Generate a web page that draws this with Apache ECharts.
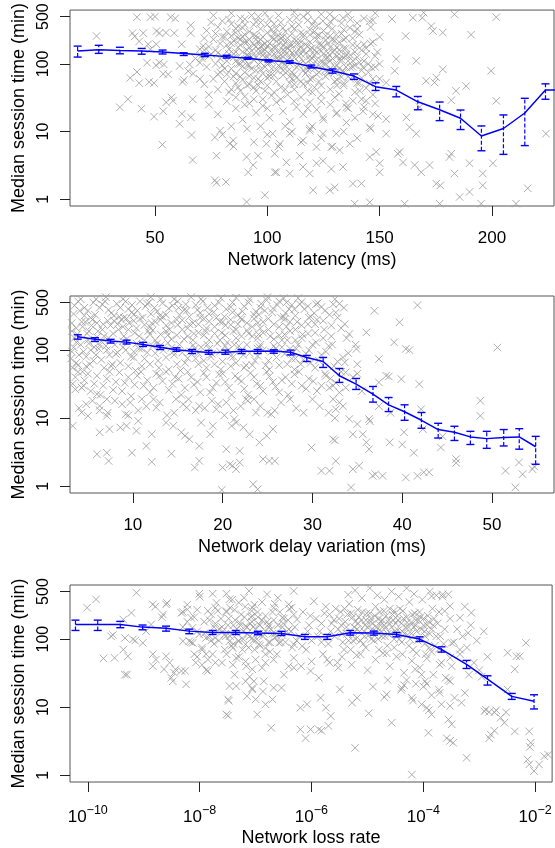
<!DOCTYPE html>
<html>
<head>
<meta charset="utf-8">
<script src="https://cdn.jsdelivr.net/npm/echarts@6.0.0/dist/echarts.min.js"></script>
<style>
  html, body { margin: 0; padding: 0; background: #fff; }
  #chart { width: 555px; height: 848px; }
</style>
</head>
<body>
<div id="chart"></div>
<script>
// ---- panel 1: network latency ----
var latX = [15.6,25.0,34.4,44.1,53.4,62.8,72.2,81.9,91.2,100.5,110,119.6,129,138.6,148.2,157.4,167,176.7,186,195.3,205.1,214.6,223.8,233.2];
var latMed = [155,162,158,155,150,142,135,128,121,112,107,91,79,66,46,41,27.5,21,15.7,8.6,11.1,18.8,41,41];
var latHi = [183,188,176,169,160,146,143,134,125,115,111,96,84,71,52.5,46.4,33,27.3,20.8,12.1,17.6,31,50.7,50];
var latLo = [126,143,141,139,140,133,128,122,117,107,102,87,73,59,40.5,32.6,21,14.5,10.7,5.2,4.6,6.2,30,30];
var latTicks = [50,100,150,200];
var latPts = [
  [24,258],[40,285],[42,490],[48,490],[50,500],[57,490],[59,470],[44.8,285],[50.7,306],[52,285],[54.9,290],[58.6,285],[65.9,372],[65.9,285],[41,255],[61.9,195],[43,215],[50.6,195],[47,195],[48,165],[70,165],[71.5,184],[52,104],[54,98],[46.5,104],[50.5,95],[42,76],[39,62],[43,52],[47.4,54],[49.6,52],[53.7,71],[55.9,70],[62.3,54],[62.9,58],[64.8,78],[67,72],[61,93],[65.5,98],[38,30],[34.4,22.8],[44,21.8],[49.6,16.6],[53.7,20],[55,27],[58,28.5],[57.4,32],[62,18.3],[61,13],[66,16.2],[66.8,30],[53.3,6.4],[66.3,8.9],[66.8,3.8],[76.7,1.9],[77.4,1.75],[81.6,1.8],[90.8,0.91],[98.9,1.15],[76.7,8.2],[79,10.3],[83.3,6.6],[84.8,7.4],[77.4,4.4],[90.8,4.2],[95.9,4.4],[91.5,2.5],[93.7,3.2],[99.6,6.6],[103.3,4.7],[102.4,9.3],[104,2.5],[70.7,131],[70,104],
  [145.6,429],[147,440],[155.5,460],[164.8,480],[169,480],[173.7,306],[178.1,290],[183.3,540],[190.7,270],[201.9,490],[169.6,570],[161.6,258],[173,362],
  [199.6,79],[201.9,28.5],[224,9.3],[178.1,83],[175.2,63],[174.4,53],[170.7,56],[184,40],[188.5,47],[181.9,29],[166.3,111],[157.4,118],[156.7,79],[152.9,53],[167.8,23],[161.9,16.2],[152.9,15.3],[163.3,11.6],[166.3,9.3],[158.9,5],[165.6,3.2],[168.5,2.5],[172.2,3.2],[175.2,1.7],[177,1.6],[181.1,4.2],[181.9,4.7],[183.3,2.4],[185.6,1.08],[190,1.28],[190,3.4],[195.9,2.4],[200.4,3.4],[195.9,1.6],[215.9,1.45],[210.7,0.86],[195.2,0.86],[176.7,0.86],[161.1,0.86],[145.6,0.9],[138.9,0.86],[145.6,4.2],[150,3.4],[141.9,1.7],[148.5,5],[158.1,4.7],[160.4,3.5],[150,2.5],[138.1,1.7],[133.7,3],[130,1.5],[127.8,1.36],[120.4,1.36],[118.9,2.4],[115.9,3],[121.9,3.4],[124.8,3.7],[114.4,4.4],[108.5,3.5],[103.3,2.5],[110,2.4],[128.5,2.8],[136.7,6.6],[132.2,5.3],[152.9,9.3],[145.6,11.6],[149.3,17],[135.2,13.6],[105.6,6.6],[110,9.3],[115.9,7.4],[121.9,5.9],[128.5,5.9],[118.9,10.3],[124.8,9.3],[130.7,9.3],[138.1,28.5],[144,28.5],[141.1,40],[145.6,51],[142.6,20],[135.2,22.8],[130.7,18.3],[124.8,16.2],[133.7,79],[138.1,111],[142.6,89],[135.2,139],[146.3,89],[130.7,270],[136.7,340],[127.8,540],[133.7,480],[124.8,429],
  [76,520],[80,430],[84,560],[88,470],[90,380],[93,520],[95,420],[97,330],[99,560],[101,460],[103,390],[105,520],[107,340],[110,450],[112,580],[114,380],[116,500],[119,320],[121,430],[124,540],[127,360],[130,470],[133,400],[136,540],[140,330],[143,470],[148,560],[86,330],[92,300],[108,300],[118,560],[125,310],[78,350],[82,300],
  [72,240],[74,180],[77,280],[79,200],[81,250],[83,165],[85,220],[86,290],[88,190],[89,255],[91,160],[92,230],[94,270],[95,180],[96,210],[98,250],[99,160],[100,290],[101,200],[102,240],[104,175],[105,265],[106,210],[108,155],[109,240],[110,190],[111,280],[113,220],[114,165],[116,250],[117,195],[119,270],[120,170],[122,230],[124,190],[126,260],[128,175],[130,220],[132,160],[135,240],[138,190],[141,270],[144,170],[147,210],[150,250],[84,260],[90,210],[97,180],[103,280],[107,185],[112,230],[115,290],[121,160],[127,200],[133,280],
  [71,120],[73,90],[75,140],[77,100],[79,75],[80,130],[82,110],[84,85],[85,140],[87,100],[88,120],[90,75],[91,135],[92,95],[94,115],[95,80],[96,145],[97,105],[99,90],[100,125],[101,72],[102,110],[103,140],[105,95],[106,120],[107,80],[108,135],[110,100],[111,75],[112,125],[113,90],[115,140],[116,110],[118,80],[119,130],[120,95],[122,115],[123,75],[125,140],[126,100],[128,85],[129,120],[131,95],[133,130],[134,75],[136,110],[138,90],[140,125],[142,80],[145,100],[148,130],[86,72],[93,128],[98,72],[104,82],[109,112],[117,72],[121,135],[127,72],[135,90],
  [72,50],[74,35],[76,60],[78,42],[81,55],[83,38],[85,65],[87,45],[89,58],[90,33],[92,50],[94,62],[95,40],[97,55],[98,30],[100,48],[101,65],[103,38],[104,55],[106,45],[107,68],[109,35],[110,52],[112,42],[113,62],[115,32],[116,50],[118,40],[119,60],[121,45],[123,55],[124,35],[126,65],[128,42],[130,55],[132,36],[134,48],[137,60],[139,38],[141,52],[144,44],[147,35],[150,60],[88,40],[96,48],[102,34],[111,60],[120,38],[131,48],
  [74,25],[78,18],[82,28],[86,22],[89,15],[92,26],[95,19],[98,24],[101,16],[104,27],[107,20],[110,14],[113,23],[116,18],[119,27],[122,21],[125,15],[128,25],[131,19],[135,26],[139,16],[143,23],[147,18],[97,12],[108,12],[84,12],[120,12],
  [80,9],[85,6],[91,11],[94,7],[100,9],[105,6],[111,10],[115,7],[119,11],[124,8],[129,6],[134,10],[140,8],[146,11],
  [73,310],[75,410],[77,160],[79,120],[81,85],[83,450],[84,200],[86,110],[87,360],[88,65],[89,150],[90,270],[91,48],[92,175],[93,85],[94,380],[95,125],[96,60],[97,230],[98,155],[99,40],[100,180],[101,105],[102,320],[103,68],[104,215],[105,150],[106,88],[107,250],[108,42],[109,170],[110,125],[111,360],[112,70],[113,195],[114,105],[115,55],[116,275],[117,140],[118,88],[119,210],[120,62],[121,300],[122,150],[123,95],[124,48],[125,180],[126,120],[127,78],[128,260],[129,150],[130,90],[131,58],[132,210],[133,115],[134,170],[136,65],[137,135],[138,240],[139,95],[140,52],[142,160],[143,110],[145,75],[146,200],[148,90],[149,150],
  [76,230],[78,145],[80,95],[82,190],[85,125],[87,240],[89,92],[91,210],[93,155],[95,260],[97,82],[99,200],[101,140],[103,235],[105,115],[107,160],[109,78],[111,190],[113,145],[115,210],[117,100],[119,165],[121,85],[123,265],[125,100],[127,145],[129,225],[131,130],[133,64],[135,170],[137,88],[139,300],[141,105],[144,140],[147,60],[150,100],
  [86,150],[88,230],[90,115],[92,66],[94,190],[96,98],[98,135],[100,62],[102,165],[104,120],[106,240],[108,95],[110,160],[112,50],[114,130],[116,80],[118,180],[120,120],[122,70],[124,155],[126,225],[128,110],[130,160],[132,85],[134,230],[82,70],[84,42],[86,32],[90,25],[94,30],[100,22],[106,30],[112,28],[118,22],[124,28],[130,32],[136,22],[142,30],[148,26],[100,380],[106,410],[112,330],[118,440],[96,500],[122,360],[128,420],[134,320],[140,400],[146,350],[90,460],[84,390],[80,250],[78,70],[74,130],[72,160],[70,60],[68,120],
  [83,140],[87,175],[91,95],[95,230],[99,125],[103,175],[107,105],[111,145],[115,180],[119,115],[123,195],[127,125],[131,175],[135,130],[139,150],[143,195],[89,340],[97,410],[104,330],[113,480],[120,380],[129,330],[137,450],[92,130],[100,105],[108,205],[116,160],[124,112],[132,115],[140,185],[86,52],[94,45],[102,85],[110,65],[118,52],[126,82],[134,52],[142,62],[98,190],[106,135],[114,95],[122,260],[130,75],[88,100],[96,165]
];

// ---- panel 2: network delay variation ----
var jitX = [3.86,5.78,7.52,9.3,11.14,13.03,14.86,16.59,18.44,20.3,22.1,23.9,25.7,27.56,29.37,31.19,33.0,34.86,36.74,38.48,40.26,42.14,44.0,45.81,47.59,49.41,51.3,53.03,54.86];
var jitMed = [157,144,136,131,121,110,101,96,92.5,93,96,96,97,93,78,68,42,31.6,22.5,15.7,12.4,9.3,6.8,6.2,5.3,5.0,5.2,5.3,3.8];
var jitHi = [168,152,144,140,130,117,108,102,99,100,102,102,101,100,83.5,78,53.7,38.3,29.2,20.1,15.7,12.1,8.4,7.6,6.4,6.4,6.8,7.0,5.4];
var jitLo = [145,134,127,123,113,102,96,89,87,87,89,89,90,85,68,55.6,33.5,26.4,17.2,12.5,9.3,7.1,5.1,4.7,4.1,3.6,3.9,3.5,2.1];
var jitTicks = [10,20,30,40,50];
var jitPts = [
  [3.3,7.7],[4.3,12.1],[5.0,10.8],[6.0,2.95],[7.1,3.1],[7.3,2.35],[6.3,6.2],[7.4,6.9],[7.1,10.8],[8.6,7.3],[9.3,7.7],[9.9,3.1],[9.2,11.4],[10.4,6.5],[10.6,9.1],[11.5,3.9],[12.1,2.28],[12.1,5.8],[14.3,3.0],[13.7,8.6],[14.5,7.7],[15.4,6.2],[15.8,5.5],[16.3,4.9],[16.9,1.88],[17.4,3.9],[17.6,8.6],[17.4,2.35],[18.6,5.8],[18.9,7.7],[19.9,0.88],[20,1.88],[20.8,2.1],[20.4,3.5],[21.1,2.0],[21.5,1.78],[21.9,2.23],[21,7.7],[21.3,9.7],[21.5,8.6],[21.9,3.3],[22.3,7.3],[23,5.8],[23.4,1.07],[23.9,0.9],[24.5,2.5],[25.2,2.35],[25.8,2.35],[24.1,4.4],[24.9,5.5],[25.4,11.4],[25.6,6.9],[23.7,12.1],[22.6,19],[20.4,17],[19.3,13.5],[17.4,15.1],[16,14.3],[14.8,19],[12.6,14.3],[11,19],[7.1,19],[6,22.5],[4.5,30],[3.6,26.5],[6.3,15.1],[9.7,17],
  [36.9,378],[41.7,458],[39.7,256],[39.1,130],[40.4,104],[40.8,100],[37.4,74],[38.2,42],[38.5,41],[41.9,31.6],[39.9,37.5],[37.4,33.5],[36,182],[34.9,104],[35,62],[37.4,15],[38.7,12],[40.2,6.2],[40,4.1],[38.6,4.4],[41.3,3.1],[42.1,13.5],[42.3,6.9],[42.4,1.6],[43,1.6],[41.7,1.42],[40.4,1.34],[37.8,1.42],[36.7,1.42],[37,1.5],[34.5,1.78],[35.2,2.0],[34.3,0.96],[36,4.4],[35.6,5.8],[34.5,5.8],[32.3,4.9],[32.5,4.7],[31,1.68],[31.9,1.68],[32.6,2.35],[29.9,3.7],[46,2.5],[46,2.2],[44.3,3.7],[44.5,5.4],[48.7,18],[48.7,10.8],[50.6,109],[51.5,1.68],[52.6,0.96],[53.4,1.5],[53,2.23],[54.5,1.78],[54.7,1.95],[36.3,3.5],[33.4,15],[34.1,9.7],[35,8.2],[36.3,9.7],[36.4,9.0],[32.6,13.5],[32.3,19],[32.3,30],[31.9,28],[33,23.8],[33.7,47],[33.6,66],[34.1,172],[33.6,241],[32.6,357],[32.3,472],[30.4,472],[28.6,472],[27.1,500],
  [3.5,450],[4.2,560],[5.0,380],[5.6,500],[6.3,420],[7.0,600],[7.6,350],[8.2,480],[8.9,560],[9.5,400],[10.1,330],[10.8,520],[11.4,440],[12.0,600],[12.7,370],[13.3,490],[14.0,410],[14.6,560],[15.2,330],[15.9,470],[16.5,600],[17.2,390],[17.8,520],[18.5,340],[19.1,450],[19.8,580],[20.4,400],[21.1,500],[21.7,330],[22.4,440],[23.0,560],[23.7,370],[24.3,480],[25.0,600],[25.6,410],[26.3,520],[27.0,350],[27.7,460],[28.4,580],[29.1,400],[29.8,310],[30.6,490],[31.4,380],[32.5,560],[33.5,420],[4.6,320],[8.5,310],[13.0,320],[17.5,300],[22.0,300],[26.8,310],
  [3.2,250],[3.8,170],[4.4,220],[5.0,140],[5.5,280],[6.1,190],[6.7,240],[7.3,150],[7.9,270],[8.4,200],[9.0,160],[9.6,250],[10.2,180],[10.8,290],[11.3,140],[11.9,220],[12.5,260],[13.1,170],[13.7,230],[14.3,145],[14.9,280],[15.5,200],[16.1,160],[16.7,250],[17.3,180],[17.9,290],[18.5,140],[19.1,220],[19.7,260],[20.3,165],[20.9,235],[21.5,150],[22.1,280],[22.7,195],[23.3,160],[23.9,250],[24.5,180],[25.1,290],[25.7,145],[26.3,220],[26.9,170],[27.5,260],[28.1,200],[28.8,150],[29.5,240],[30.3,180],[31.2,270],[32.1,160],[33.2,210],[6.5,135],[9.3,290],[12.2,195],[15.0,235],[18.2,210],[21.2,190],[24.2,210],[27.2,140],
  [3.1,75],[3.4,110],[3.9,60],[4.5,95],[5.1,125],[5.6,70],[6.2,105],[6.8,55],[7.4,85],[8.0,120],[8.6,65],[9.2,100],[9.8,80],[10.4,125],[11.0,58],[11.6,92],[12.2,115],[12.8,70],[13.4,100],[14.0,52],[14.6,85],[15.2,120],[15.8,65],[16.4,95],[17.0,75],[17.6,110],[18.2,55],[18.8,88],[19.4,125],[20.0,68],[20.6,100],[21.2,80],[21.8,115],[22.4,55],[23.0,90],[23.6,70],[24.2,120],[24.8,60],[25.4,95],[26.0,78],[26.6,110],[27.2,62],[27.8,90],[28.4,120],[29.0,72],[29.6,100],[30.3,55],[31.0,85],[31.8,115],[32.8,68],[34.0,90],[3.3,55],[4.8,80],[7.0,115],[10.1,95],[13.9,128],[17.3,62],[20.9,58],[23.9,105],[28.0,52],
  [3.6,40],[4.3,28],[5.0,45],[5.7,32],[6.4,22],[7.1,38],[7.8,26],[8.5,47],[9.1,33],[9.8,21],[10.5,42],[11.2,30],[11.9,24],[12.6,45],[13.3,35],[14.0,26],[14.7,40],[15.4,22],[16.1,48],[16.8,31],[17.5,24],[18.2,40],[18.9,28],[19.6,44],[20.3,34],[21.0,22],[21.7,38],[22.4,27],[23.1,46],[23.8,32],[24.5,25],[25.2,41],[25.9,29],[26.6,36],[27.3,22],[28.0,44],[28.8,30],[29.6,38],[30.5,25],[31.5,42],[32.6,33],[33.7,28],[35.0,45],
  [4.0,14],[5.5,18],[7.2,12],[8.8,16],[10.6,13],[12.3,19],[13.8,11],[15.6,16],[17.0,13],[18.8,18],[20.2,11],[22.0,15],[23.5,19],[25.0,12],[26.5,17],[28.2,14],[30.0,19],[31.8,12],[33.0,17],
  [3.4,340],[3.9,520],[4.6,420],[5.3,300],[5.9,560],[6.6,470],[7.3,390],[7.9,320],[8.6,420],[9.2,520],[9.9,460],[10.5,380],[11.1,300],[11.8,500],[12.4,420],[13.1,560],[13.7,330],[14.4,450],[15.0,520],[15.7,390],[16.3,310],[17.0,460],[17.6,560],[18.3,420],[19.0,360],[19.6,500],[20.2,310],[20.9,430],[21.5,590],[22.2,370],[22.9,500],[23.5,330],[24.2,420],[24.9,540],[25.5,360],[26.1,460],[26.8,580],[27.4,400],[28.1,320],[28.8,510],[29.5,440],[30.2,350],[31.0,430],[31.9,330],[33.0,480],
  [3.2,190],[3.7,130],[4.3,260],[4.9,175],[5.4,230],[6.0,155],[6.6,200],[7.2,270],[7.8,175],[8.3,240],[8.9,135],[9.5,200],[10.1,270],[10.7,160],[11.3,235],[11.9,170],[12.5,140],[13.1,280],[13.7,190],[14.3,250],[14.9,165],[15.5,275],[16.1,210],[16.7,140],[17.3,240],[17.9,165],[18.5,265],[19.1,175],[19.7,140],[20.3,230],[20.9,280],[21.5,200],[22.1,160],[22.7,250],[23.3,220],[23.9,150],[24.5,260],[25.1,200],[25.7,240],[26.3,165],[26.9,285],[27.5,190],[28.1,140],[28.8,230],[29.5,175],[30.3,240],[31.2,150],[32.1,230],
  [3.2,95],[3.7,65],[4.2,120],[4.8,58],[5.3,100],[5.9,85],[6.5,72],[7.1,100],[7.7,62],[8.3,92],[8.9,110],[9.5,58],[10.1,78],[10.7,105],[11.3,75],[11.9,62],[12.5,90],[13.1,118],[13.7,78],[14.3,108],[14.9,62],[15.5,92],[16.1,76],[16.7,118],[17.3,90],[17.9,70],[18.5,105],[19.1,62],[19.7,95],[20.3,115],[20.9,82],[21.5,65],[22.1,98],[22.7,120],[23.3,60],[23.9,82],[24.5,100],[25.1,70],[25.7,115],[26.3,60],[26.9,88],[27.5,105],[28.1,75],[28.7,62],[29.3,88],[30.0,120],[30.7,70],[31.5,95],[32.4,58],[33.4,78],
  [3.3,32],[3.9,48],[4.6,36],[5.3,25],[6.0,42],[6.7,30],[7.4,48],[8.1,34],[8.8,25],[9.5,40],[10.2,31],[10.9,48],[11.6,36],[12.3,28],[13.0,42],[13.7,48],[14.4,32],[15.1,38],[15.8,28],[16.5,40],[17.2,34],[17.9,46],[18.6,24],[19.3,33],[20.0,45],[20.7,28],[21.4,42],[22.1,35],[22.8,22],[23.5,40],[24.2,30],[24.9,48],[25.6,34],[26.3,24],[27.0,40],[27.7,32],[28.5,48],[29.3,27],[30.1,35],[31.0,30],[32.0,38],[33.2,48],
  [4.8,16],[6.3,13],[8.0,18],[9.5,11],[11.5,15],[13.0,17],[14.6,12],[16.2,19],[18.0,14],[19.5,16],[21.2,13],[22.8,18],[24.2,15],[25.8,13],[27.5,19],[29.0,12],[30.8,15],[32.5,10],
  [3.5,150],[4.0,85],[4.1,380],[4.7,260],[5.2,62],[5.8,330],[6.3,118],[6.9,520],[7.5,230],[8.1,88],[8.7,280],[9.3,145],[9.9,360],[10.4,210],[11.0,105],[11.6,480],[12.1,250],[12.7,125],[13.3,310],[13.9,165],[14.5,95],[15.1,420],[15.7,145],[16.3,240],[16.9,105],[17.5,350],[18.1,190],[18.7,80],[19.3,300],[19.9,180],[20.5,130],[21.1,360],[21.7,240],[22.3,85],[22.9,175],[23.5,290],[24.1,110],[24.7,380],[25.3,160],[25.9,105],[26.5,300],[27.1,220],[27.7,75],[28.3,260],[28.9,170],[29.6,300],[30.4,130],[31.3,200],[32.2,120],[3.7,210],[4.4,48],[5.1,190],[5.7,110],[6.8,160],[7.6,58],[8.9,220],[10.3,50],[11.7,190],[12.9,55],[14.1,200],[15.3,50],[16.8,175],[18.3,120],[19.8,52],[21.3,120],[22.6,60],[24.0,170],[25.2,52],[26.6,140],[28.2,105],[29.8,65],[31.4,45],[6.0,250],[9.0,300],[12.0,340],[16.0,380],[20.0,260],[24.0,330],[28.0,400],[30.5,280],[32.8,300],[33.8,150],[34.5,40],[35.5,25],[34.8,120]
];

// ---- panel 3: network loss rate ----
var lossX = [6.0e-11,1.5e-10,3.8e-10,9.5e-10,2.5e-9,6.5e-9,1.7e-8,4.4e-8,1.1e-7,2.9e-7,7.6e-7,1.9e-6,4.9e-6,1.3e-5,3.3e-5,8.5e-5,2.1e-4,5.9e-4,1.4e-3,3.8e-3,9.5e-3];
var lossMed = [164,164,164,150,144,131,125,125,123,121,108,108,124,123,117,100,70.5,42.5,25.8,14.4,12.2];
var lossHi = [190,190,182,161,155,140,134,134,130,130,117,117,134,131,125,108,77,48.6,28.9,15.9,15.2];
var lossLo = [134,134,147,137,131,120,117,117,116,113,99,99,114.5,114.5,108,92.5,64.4,37,21.1,13,9.4];
var lossTicks = [1e-10,1e-8,1e-6,1e-4,1e-2];
var lossPts = [
  [9.7e-11,289],[1.4e-10,384],[7.4e-10,480],[1.9e-10,52],[3e-10,53],[4.3e-10,70],[5.2e-10,56],[2.6e-10,110],[2.8e-10,115],[4.6e-10,104],[6.4e-10,99],[7e-10,95],[4.6e-10,30],[5e-10,30],[6e-10,243],[4.3e-10,194],[1.45e-9,324],[1.6e-9,300],[2.5e-9,324],[2.6e-9,340],[2.2e-9,230],[2.1e-9,210],[1.35e-9,164],[1.1e-9,131],[9.6e-10,88],[1.45e-9,60],[1.65e-9,50],[1.45e-9,40],[2.5e-9,56],[2.9e-9,45],[2.3e-9,36],[3.1e-9,27],[3.5e-9,32],[3.7e-9,36],[4.7e-9,34],[5.7e-9,21.6],[3.3e-9,24],[4.7e-9,243],[5e-9,250],[6e-9,272],[7e-9,206],[7.4e-9,146],[9.8e-9,117],[1.3e-8,104],[6.5e-9,93],[5e-9,93],[7.5e-9,88],[1.1e-8,70],[8e-9,60],[1.3e-8,60],[1.4e-8,50],[8.5e-9,45],[1.1e-8,42],[1.4e-8,34],[5.5e-9,34],[9.8e-9,464],[1.7e-8,464],[3e-8,464],[3.4e-8,384],[1.9e-8,289],[3e-8,258],[3.5e-8,289],[5e-8,343],[6.2e-8,405],[8.7e-8,289],[9.5e-8,320],[7.6e-8,510],[8.7e-8,218],[6.6e-8,155],[1.15e-7,164],[1.5e-7,131],[1.7e-7,164],[2.1e-7,289],[2.2e-7,330],[1.6e-7,455],[1.9e-8,104],[2.8e-8,117],[3.4e-8,93],[3.9e-8,74],[5e-8,93],[6.6e-8,84],[8.7e-8,104],[1.15e-7,84],[1.5e-7,74],[1.8e-7,90],[3e-8,60],[4.5e-8,53],[6.6e-8,47],[1e-7,50],[1.5e-7,60],[2.1e-7,50],[1.9e-8,45],[3.9e-8,42],[8.7e-8,36],[1.3e-7,38],[3.4e-8,20.4],[4.5e-8,20.4],[3.2e-8,13],[3.3e-8,12.4],[3e-8,7.8],[3.2e-8,7.5],[6.6e-8,24],[9.3e-8,24],[7e-8,14.5],[1e-7,13],[1.5e-7,11],[1.07e-7,7.8],[8.7e-8,18.2],[8.7e-8,19],[1.9e-7,4.97],[1.4e-7,24],[1.35e-7,17],
  [2.5e-7,405],[3.9e-7,324],[4.8e-7,510],[4.4e-7,290],[5.5e-7,194],[3e-7,206],[3.9e-7,139],[2.2e-7,120],[2.6e-7,88],[4.8e-7,84],[6.8e-7,79],[4.8e-7,53],[3.9e-7,40],[4.8e-7,38],[3.2e-7,30],[2.1e-7,19.2],[2.9e-7,19.2],[2e-7,13],[6.3e-7,9.8],[8.3e-7,11],[6.3e-7,4.7],[7.8e-7,3.5],[9.6e-7,4.7],[1.35e-6,4.7],[1.5e-6,4.5],[2e-6,5.3],[1.8e-6,9.8],[2.2e-6,7.4],[1.45e-6,13.7],[9.6e-7,34],[1.35e-6,27],[1e-6,47],[1.9e-6,50],[2.1e-6,45],[3e-6,38],[3.2e-6,18.2],[6.5e-6,13.7],[5.3e-6,11.6],[1.05e-5,8.1],[6e-6,2.52],[2.7e-5,5.9],[6.2e-5,1.02],[2.2e-5,15.4],[2e-5,14],[4.1e-5,19.2],[4.5e-5,21],[5e-5,25],[7.1e-5,36],[9.3e-5,30],[1.07e-4,24],[1.15e-4,22],[6.2e-5,13.7],[6.5e-5,12.5],[9.3e-5,11],[1.15e-4,9.8],[1.25e-4,9],[1.4e-4,7.8],[1.23e-4,4.2],[2.6e-4,3.5],[3.4e-4,3.0],[3e-4,3.2],[3.2e-4,5.6],[2.8e-4,6.6],[3e-4,10.4],[2.1e-4,11],[1.95e-4,16.2],[3.6e-4,13.7],[4.8e-4,11.6],[5.5e-4,16.2],[5.9e-4,1.8],[1.23e-3,8.7],[1.3e-3,9.2],[1.5e-3,8.5],[1.86e-3,8.4],[2e-3,9],[2.4e-3,7],[2.8e-3,5.9],[3e-3,8.4],[1.6e-3,3.95],[1.86e-3,4.5],[1.5e-3,3.5],[3.2e-3,63],[4.6e-3,56],[5.3e-3,56],[6.8e-3,88],[4.3e-3,36],[3.2e-3,18.2],[4.3e-3,4.4],[7.8e-3,4.4],[8.3e-3,3.0],[8e-3,2.6],[7.3e-3,1.7],[9.5e-3,1.15],[1.17e-2,1.44],[1.45e-2,1.9],[1.7e-2,2.0],[7.8e-3,1.44],[4.5e-4,70],[6.3e-4,123],[7.2e-4,243],[4.5e-4,206],[3e-4,306],[2.8e-4,455],[2.2e-4,455],[1.4e-4,428],[2.4e-4,258],[3.2e-4,88],[3e-4,53],[1.95e-4,42],[3e-4,24],[2.5e-4,27],
  [5e-9,150],[6e-9,320],[7e-9,90],[8e-9,210],[9e-9,130],[1e-8,420],[1.1e-8,75],[1.2e-8,180],[1.4e-8,260],[1.5e-8,110],[1.7e-8,60],[1.8e-8,150],[2e-8,340],[2.2e-8,95],[2.4e-8,200],[2.6e-8,130],[2.8e-8,70],[3e-8,250],[3.2e-8,160],[3.5e-8,110],[3.8e-8,380],[4e-8,85],[4.3e-8,190],[4.6e-8,140],[5e-8,55],[5.5e-8,230],[6e-8,100],[6.5e-8,300],[7e-8,120],[7.5e-8,75],[8e-8,170],[8.5e-8,260],[9e-8,95],[1e-7,140],[1.1e-7,210],[1.2e-7,80],[1.3e-7,350],[1.4e-7,120],[1.6e-7,180],[1.8e-7,65],[2e-7,250],[2.2e-7,105],[2.5e-7,160],[2.8e-7,90],[3.2e-7,200],[3.6e-7,130],[4e-7,280],[4.5e-7,75],[5e-7,150],[1.6e-8,230],[2.5e-8,45],[3.7e-8,120],[6.8e-8,40],[1.05e-7,100],[1.5e-7,45],[2.4e-7,60],[9e-9,55],[1.3e-8,35],[4.2e-8,30],[7.8e-8,28],[1.9e-8,170],[5.2e-8,175],[8.2e-8,210],[1.7e-7,150],[3e-7,115],
  [6e-7,110],[7e-7,250],[8e-7,70],[9e-7,160],[1e-6,95],[1.2e-6,200],[1.4e-6,130],[1.6e-6,60],[1.8e-6,300],[2e-6,85],[2.3e-6,170],[2.6e-6,110],[2.9e-6,45],[6.5e-7,40],[1.1e-6,360],[1.5e-6,90],[2.1e-6,230],
  [3e-6,140],[3.3e-6,250],[3.6e-6,90],[4e-6,180],[4.3e-6,120],[4.7e-6,330],[5e-6,70],[5.4e-6,210],[5.8e-6,150],[6.2e-6,100],[6.7e-6,270],[7.2e-6,130],[7.8e-6,190],[8.4e-6,85],[9e-6,160],[9.7e-6,240],[1.05e-5,115],[1.13e-5,180],[1.2e-5,140],[1.3e-5,95],[1.4e-5,300],[1.5e-5,125],[1.6e-5,200],[1.7e-5,160],[1.8e-5,110],[1.95e-5,260],[2.1e-5,145],[2.25e-5,80],[2.4e-5,190],[2.6e-5,120],[2.8e-5,230],[3e-5,100],[3.2e-5,170],[3.5e-5,135],[3.8e-5,280],[4.1e-5,90],[4.4e-5,200],[4.8e-5,150],[5.2e-5,115],[5.6e-5,350],[6e-5,175],[6.5e-5,70],[7e-5,240],[7.6e-5,130],[8.2e-5,190],[9e-5,100],[1e-4,160],[1.1e-4,60],[1.2e-4,220],[1.3e-4,120],[1.45e-4,280],[1.6e-4,80],[1.8e-4,170],[2e-4,110],[2.2e-4,420],[2.4e-4,140],
  [4.5e-6,450],[6e-6,520],[8e-6,400],[1.1e-5,560],[1.5e-5,440],[2e-5,380],[2.7e-5,500],[3.6e-5,420],[5e-5,560],[6.8e-5,460],[9.5e-5,380],[1.3e-4,500],[1.7e-4,440],
  [3.5e-6,55],[5.2e-6,42],[7.5e-6,60],[1e-5,35],[1.4e-5,50],[1.9e-5,62],[2.5e-5,40],[3.3e-5,55],[4.5e-5,32],[6.2e-5,48],[8.6e-5,38],[1.15e-4,52],[1.5e-4,30],[2.1e-4,45],
  [1.25e-5,20],[2.3e-5,25],[4e-5,18],[7.3e-5,22],[1.4e-4,15],[1e-4,20],[1.9e-4,18],
  [3e-4,200],[3.5e-4,90],[4e-4,140],[4.5e-4,60],[5e-4,110],[5.5e-4,300],[6e-4,75],[7e-4,160],[8e-4,45],[9e-4,95],[1e-3,35],[1.2e-3,130],[1.4e-3,55],[3.2e-4,40],[6.5e-4,30],[2.8e-4,25],[1.1e-3,28],
  [6e-9,180],[9e-9,270],[1.2e-8,120],[1.5e-8,190],[1.8e-8,85],[2.1e-8,260],[2.5e-8,150],[2.9e-8,110],[3.3e-8,200],[3.7e-8,80],[4.2e-8,270],[4.7e-8,120],[5.3e-8,160],[5.8e-8,70],[6.3e-8,210],[7e-8,150],[7.8e-8,110],[8.6e-8,180],[9.6e-8,70],[1.08e-7,250],[1.2e-7,160],[1.35e-7,110],[1.5e-7,220],[1.7e-7,90],[1.9e-7,140],[2.1e-7,190],[2.4e-7,110],[2.7e-7,250],[3e-7,150],[3.4e-7,90],[3.8e-7,190],[4.3e-7,130],[4.8e-7,230],[5.4e-7,95],
  [3.1e-6,200],[3.5e-6,120],[3.9e-6,280],[4.2e-6,150],[4.6e-6,95],[5.1e-6,240],[5.6e-6,120],[6e-6,180],[6.5e-6,140],[7e-6,210],[7.5e-6,95],[8.1e-6,250],[8.7e-6,130],[9.4e-6,190],[1e-5,150],[1.1e-5,240],[1.17e-5,100],[1.25e-5,170],[1.35e-5,220],[1.45e-5,150],[1.55e-5,100],[1.65e-5,250],[1.75e-5,130],[1.85e-5,190],[2e-5,160],[2.15e-5,220],[2.3e-5,120],[2.5e-5,280],[2.7e-5,150],[2.9e-5,190],[3.1e-5,130],[3.4e-5,220],[3.7e-5,100],[4e-5,170],[4.3e-5,260],[4.6e-5,120],[5e-5,210],[5.4e-5,150],[5.8e-5,100],[6.3e-5,230],[6.8e-5,150],[7.3e-5,190],[7.9e-5,95],[8.5e-5,250],[9.2e-5,140],[1e-4,200],[1.08e-4,110],[1.17e-4,160],[1.27e-4,75],[1.4e-4,140],[1.55e-4,200],[1.7e-4,110],[1.9e-4,250],
  [3.8e-6,70],[6.4e-6,58],[9.3e-6,75],[1.6e-5,70],[2.2e-5,62],[3e-5,75],[4.2e-5,60],[5.5e-5,80],[7.5e-5,62],[1.05e-4,85],[1.4e-4,65],[1.9e-4,72],[2.3e-4,85],
  [1.5e-6,170],[1.7e-6,240],[2.2e-6,130],[2.5e-6,190],[2.7e-6,280],[1.3e-6,110],[9.5e-7,220],[8.5e-7,130],
  [3.4e-6,160],[4.4e-6,230],[5.5e-6,95],[6.8e-6,170],[8.8e-6,110],[1.15e-5,200],[1.4e-5,130],[1.7e-5,180],[2.05e-5,110],[2.45e-5,170],[2.95e-5,260],[3.5e-5,190],[4.2e-5,130],[5.1e-5,175],[6.1e-5,120],[7.2e-5,160],[8.8e-5,210],[1.05e-4,130],[1.25e-4,180],[1.5e-4,160],[4e-8,160],[6e-8,130],[9e-8,150],[1.3e-7,190],[2e-7,120],[3.1e-7,170],[2.2e-8,140],[1.6e-8,95],[1.15e-7,120],[4.9e-8,95]
];

var yTicks = [1,10,100,500];

var FONT = 'Liberation Sans, Arial, sans-serif';
var BLUE = '#0000ff';
var GREY = '#9a9a9a';
var CROSS = 'path://M0,0L10,10M10,0L0,10';

function zip(xs, ys) {
    return xs.map(function (x, i) { return [x, ys[i]]; });
}
function zip3(xs, lo, hi) {
    return xs.map(function (x, i) { return [x, lo[i], hi[i]]; });
}

// vertical dashed bar with caps, placed with the grid's own scales
function errBar(params, api) {
    var x = api.value(0);
    var a = api.coord([x, api.value(1)]);
    var b = api.coord([x, api.value(2)]);
    var w = 4;
    return {
        type: 'group',
        children: [
            {type: 'line', shape: {x1: a[0], y1: a[1], x2: b[0], y2: b[1]},
             style: {stroke: BLUE, lineWidth: 1.2, lineDash: [4, 2]}},
            {type: 'line', shape: {x1: a[0] - w, y1: a[1], x2: a[0] + w, y2: a[1]},
             style: {stroke: BLUE, lineWidth: 1.4}},
            {type: 'line', shape: {x1: b[0] - w, y1: b[1], x2: b[0] + w, y2: b[1]},
             style: {stroke: BLUE, lineWidth: 1.4}}
        ]
    };
}

function xAxisFor(i, name, type, min, max, ticks, gap, labelCfg) {
    return {
        gridIndex: i, type: type, min: min, max: max,
        name: name, nameLocation: 'middle', nameGap: gap,
        nameTextStyle: {fontFamily: FONT, fontSize: 18, color: '#000'},
        axisLine: {show: false},
        axisTick: {show: true, length: 10, customValues: ticks, lineStyle: {color: '#222'}},
        axisLabel: Object.assign({customValues: ticks, fontFamily: FONT, fontSize: 17, color: '#000', margin: 23.5}, labelCfg || {}),
        splitLine: {show: false}
    };
}

function yAxisFor(i) {
    return {
        gridIndex: i, type: 'log', logBase: 10, min: 0.794, max: 624,
        name: 'Median session time (min)', nameLocation: 'middle', nameGap: 42,
        nameTextStyle: {fontFamily: FONT, fontSize: 18, color: '#000'},
        axisLine: {show: false},
        axisTick: {show: true, length: 10, customValues: yTicks, lineStyle: {color: '#222'}},
        axisLabel: {customValues: yTicks, rotate: 90, fontFamily: FONT, fontSize: 16, color: '#000', margin: 18},
        splitLine: {show: false}
    };
}

function panelSeries(i, pts, xs, med, lo, hi) {
    return [
        {type: 'scatter', xAxisIndex: i, yAxisIndex: i, data: pts,
         symbol: CROSS, symbolSize: 7.5, silent: true,
         itemStyle: {color: 'rgba(0,0,0,0)', borderColor: GREY, borderWidth: 1}},
        {type: 'line', xAxisIndex: i, yAxisIndex: i, data: zip(xs, med),
         symbol: 'none', lineStyle: {color: BLUE, width: 1.5}, silent: true, z: 3},
        {type: 'custom', xAxisIndex: i, yAxisIndex: i, data: zip3(xs, lo, hi),
         renderItem: errBar, encode: {x: 0, y: [1, 2]}, clip: true, silent: true, z: 4}
    ];
}

var myChart = echarts.init(document.getElementById('chart'), null, {renderer: 'canvas'});
var gridBox = {show: true, borderColor: '#555', borderWidth: 1, left: 70, width: 484, height: 197};
var option = {
    animation: false,
    backgroundColor: '#fff',
    grid: [
        Object.assign({top: 9}, gridBox),
        Object.assign({top: 296}, gridBox),
        Object.assign({top: 585}, gridBox)
    ],
    xAxis: [
        xAxisFor(0, 'Network latency (ms)', 'value', 12.2, 227.6, latTicks, 45),
        xAxisFor(1, 'Network delay variation (ms)', 'value', 3.0, 56.9, jitTicks, 45),
        xAxisFor(2, 'Network loss rate', 'log', 4.79e-11, 0.02, lossTicks, 47, {
            margin: 22,
            formatter: function (v) {
                var e = Math.round(Math.log10(v));
                return '{m|10}{s|\u2212' + Math.abs(e) + '}{h| }';
            },
            rich: {
                m: {fontFamily: FONT, fontSize: 17, lineHeight: 17, verticalAlign: 'bottom', color: '#000'},
                s: {fontFamily: FONT, fontSize: 12.5, lineHeight: 12, verticalAlign: 'top', color: '#000'},
                h: {fontSize: 1, lineHeight: 22}
            }
        })
    ],
    yAxis: [yAxisFor(0), yAxisFor(1), yAxisFor(2)],
    series: []
        .concat(panelSeries(0, latPts, latX, latMed, latLo, latHi))
        .concat(panelSeries(1, jitPts, jitX, jitMed, jitLo, jitHi))
        .concat(panelSeries(2, lossPts, lossX, lossMed, lossLo, lossHi))
};
myChart.setOption(option);
</script>
</body>
</html>
